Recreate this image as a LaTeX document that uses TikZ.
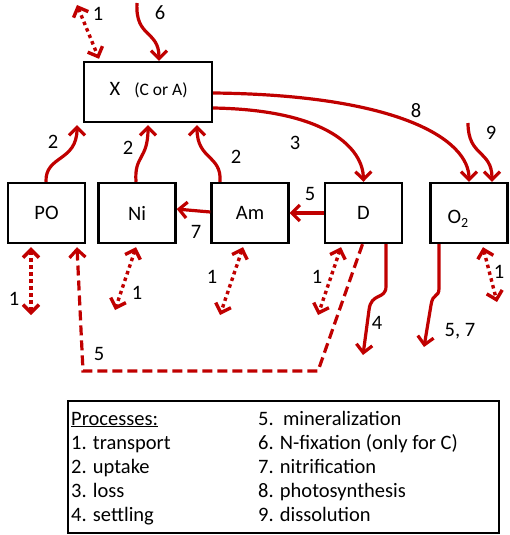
\documentclass[tikz,border=0pt]{standalone}
\usepackage{fontspec}
\setmainfont{Carlito}
\usetikzlibrary{arrows.meta}
\definecolor{flow}{RGB}{192,0,0}
\begin{document}
\begin{tikzpicture}[x=1pt,y=-1pt,
  box/.style={draw=black,line width=2.4pt,minimum width=77pt,minimum height=60pt,inner sep=0pt,font=\fontsize{20.5}{24}\selectfont},
  lbl/.style={font=\fontsize{20.5}{24}\selectfont,inner sep=0pt},
  leg/.style={font=\fontsize{20.5}{24}\selectfont,inner sep=0pt,anchor=base west},
  tip/.style={-{Straight Barb[length=8pt,width=16pt]}},
  flux/.style={draw=flow,line width=3.2pt,tip},
  exch/.style={draw=flow,line width=3.4pt,dash pattern=on 3.5pt off 3.5pt,
    {Straight Barb[length=8pt,width=16pt]}-{Straight Barb[length=8pt,width=16pt]}},
  remin/.style={draw=flow,line width=3.2pt,dash pattern=on 10pt off 5pt,tip}]
\useasboundingbox (0,0) rectangle (509,535);

% compartments
\node[box,minimum width=128pt] (X) at (148,92) {};
\node[lbl] (xname) at (115,89) {X};
\node[lbl,font=\fontsize{17.5}{20}\selectfont] (xsub) at (161,90) {(C or A)};
\node[box] (PO) at (46.5,213) {PO};
\node[box] (Ni) at (137,213) {Ni};
\node[box] (Am) at (250,213) {Am};
\node[box] (D) at (363.5,213) {D};
\node[box] (O2) at (469,213) {};
\node[lbl] (o2name) at (458,219) {O\raisebox{-3.5pt}{\fontsize{14}{16}\selectfont 2}};

% free ends
\coordinate (xex) at (77,5);
\coordinate (fix) at (137,3);
\coordinate (dis) at (468,123);
\coordinate (poex) at (31,315);
\coordinate (niex) at (115,310);
\coordinate (amex) at (220,315);
\coordinate (dex) at (318,315);
\coordinate (o2ex) at (497,302);
\coordinate (sink) at (363,355);
\coordinate (o2use) at (424,347);
\coordinate (bendA) at (83,371);
\coordinate (bendB) at (318,371);

% uptake (yshift is in canvas units, so negative means downward)
\draw[flux] ([xshift=-0.5pt]PO.north) .. controls (45,155) and (77,162) .. ([xshift=-71pt,yshift=-2pt]X.south);
\draw[flux] ([xshift=-1pt]Ni.north) .. controls (134,155) and (148,160) .. ([yshift=-2pt]X.south);
\draw[flux] ([xshift=-30pt]Am.north) .. controls (222,155) and (197,160) .. ([xshift=49pt,yshift=-2pt]X.south);
% nitrification and mineralization
\draw[flux] ([yshift=1pt]Am.west) .. controls (196,211) .. ([yshift=4pt]Ni.east);
\draw[flux] (D.west) -- (Am.east);
% loss and photosynthesis
\draw[flux] ([yshift=-16pt]X.east) .. controls (330,110) and (363,150) .. (D.north);
\draw[flux] ([yshift=-1pt]X.east) .. controls (400,95) and (469,140) .. (O2.north);
% dissolution and N-fixation
\draw[flux] (dis) .. controls (468,157) and (492,150) .. ([xshift=23pt]O2.north);
\draw[flux] (fix) .. controls (135,38) and (159,30) .. ([xshift=11pt]X.north);
% settling and oxygen use
\draw[flux] ([xshift=22.5pt]D.south) -- ++(0,42) .. controls +(0,14) and (371,292) .. (369,310) -- (sink);
\draw[flux] ([xshift=-30pt]O2.south) -- ++(0,44) .. controls +(0,10) and (433,292) .. (431,305) -- (o2use);

% transport
\draw[exch] (xex) -- ([xshift=-49pt,yshift=2pt]X.north);
\draw[exch] ([xshift=-15.5pt,yshift=-3pt]PO.south) -- (poex);
\draw[exch] ([xshift=-1pt,yshift=-3pt]Ni.south) -- (niex);
\draw[exch] ([xshift=-7pt,yshift=-3pt]Am.south) -- (amex);
\draw[exch] ([xshift=-22.5pt,yshift=-3pt]D.south) -- (dex);
\draw[exch] ([xshift=14pt,yshift=-3pt]O2.south) -- (o2ex);

% remineralization back to PO
\draw[remin] ([xshift=-1pt]D.south) -- (bendB) -- (bendA) -- ([xshift=30.5pt,yshift=-3pt]PO.south);

% process numbers
\node[lbl] (n1a) at (98,14) {1};
\node[lbl] (n6) at (160,13) {6};
\node[lbl] (n2a) at (53,142) {2};
\node[lbl] (n2b) at (128,148) {2};
\node[lbl] (n2c) at (236,157) {2};
\node[lbl] (n3) at (295,143) {3};
\node[lbl] (n8) at (416,111) {8};
\node[lbl] (n9) at (491,133) {9};
\node[lbl] (n5a) at (310,194) {5};
\node[lbl] (n7) at (196,232) {7};
\node[lbl] (n1b) at (14,299) {1};
\node[lbl] (n1c) at (137,293) {1};
\node[lbl] (n1d) at (212,277) {1};
\node[lbl] (n1e) at (317,277) {1};
\node[lbl] (n1f) at (499,272) {1};
\node[lbl] (n4) at (377,323) {4};
\node[lbl] (n57) at (460,331) {5, 7};
\node[lbl] (n5b) at (99,354) {5};

% legend
\node[draw=black,line width=2.4pt,minimum width=431pt,minimum height=132pt,inner sep=0pt] (legend) at (283.5,467) {};
\node[leg] (p0) at (71,425) {\underline{Processes:}};
\node[leg] (p1) at (71,449) {1. transport};
\node[leg] (p2) at (71,473) {2. uptake};
\node[leg] (p3) at (71,497) {3. loss};
\node[leg] (p4) at (71,521) {4. settling};
\node[leg] (p5) at (258,425) {5.\ \ mineralization};
\node[leg] (p6) at (258,449) {6. N-fixation (only for C)};
\node[leg] (p7) at (258,473) {7. nitrification};
\node[leg] (p8) at (258,497) {8. photosynthesis};
\node[leg] (p9) at (258,521) {9. dissolution};
\end{tikzpicture}
\end{document}
